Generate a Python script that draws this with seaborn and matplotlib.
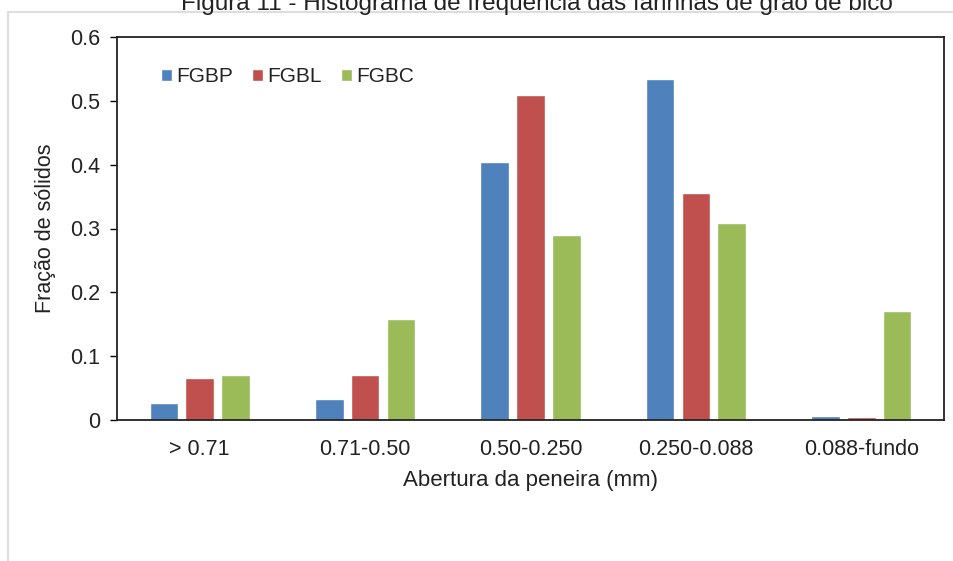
import matplotlib
matplotlib.use('Agg')
import seaborn as sns
import matplotlib.pyplot as plt
import pandas as pd

# Dados
aberturas = ['> 0.71', '0.71-0.50', '0.50-0.250', '0.250-0.088', '0.088-fundo']
fgbp = [0.027, 0.033, 0.404, 0.534, 0.006]
fgbl = [0.066, 0.070, 0.509, 0.356, 0.004]
fgbc = [0.070, 0.158, 0.290, 0.309, 0.171]
amostras = ['FGBP', 'FGBL', 'FGBC']
cores = ['#4F81BD', '#C0504D', '#9BBB59']

df = pd.DataFrame({
    'Abertura': aberturas * 3,
    'Amostra': [a for a in amostras for _ in aberturas],
    'Fracao': fgbp + fgbl + fgbc,
})

sns.set_style('white')
plt.rcParams['font.family'] = ['Liberation Sans', 'DejaVu Sans']

fig = plt.figure(figsize=(9.54, 5.61), dpi=100)
ax = fig.add_axes([117 / 954, 1 - 420 / 561, 827 / 954, 383 / 561])

sns.barplot(data=df, x='Abertura', y='Fracao', hue='Amostra',
            palette=cores, order=aberturas, hue_order=amostras,
            width=0.65, gap=0.2, ax=ax, saturation=1)

ax.set_xlim(-0.5, 4.5)
ax.set_ylim(0, 0.6)
ax.set_yticks([0, 0.1, 0.2, 0.3, 0.4, 0.5, 0.6])
ax.set_yticklabels(['0', '0.1', '0.2', '0.3', '0.4', '0.5', '0.6'])
ax.tick_params(axis='y', direction='out', length=5, width=1, color='black',
               left=True, labelsize=15.5, pad=7, labelcolor='#222222')
ax.tick_params(axis='x', length=0, labelsize=15.5, pad=14, labelcolor='#222222')
for s in ax.spines.values():
    s.set_color('#222222')
    s.set_linewidth(1.3)

ax.set_xlabel('Abertura da peneira (mm)', fontsize=16, color='#222222', labelpad=7)
ax.set_ylabel('Fração de sólidos', fontsize=15.5, color='#222222', labelpad=10)

ax.legend(loc='upper left', bbox_to_anchor=(0.03, 0.97), ncol=3, frameon=False,
          fontsize=15, handlelength=0.55, handleheight=0.55, handletextpad=0.2,
          columnspacing=0.9, labelcolor='#222222')

# moldura cinza da página e título cortado
fig.add_artist(plt.Line2D([8 / 954, 8 / 954], [0, 1 - 12 / 561],
                          color='#dddddd', lw=1.5, transform=fig.transFigure))
fig.add_artist(plt.Line2D([8 / 954, 1], [1 - 12 / 561, 1 - 12 / 561],
                          color='#dddddd', lw=1.5, transform=fig.transFigure))
fig.text(537 / 954, 1 - 10 / 561, 'Figura 11 - Histograma de frequência das farinhas de grão de bico',
         ha='center', va='baseline', fontsize=17.5, color='#222222')

plt.savefig('out.png', dpi=100)
plt.close()
